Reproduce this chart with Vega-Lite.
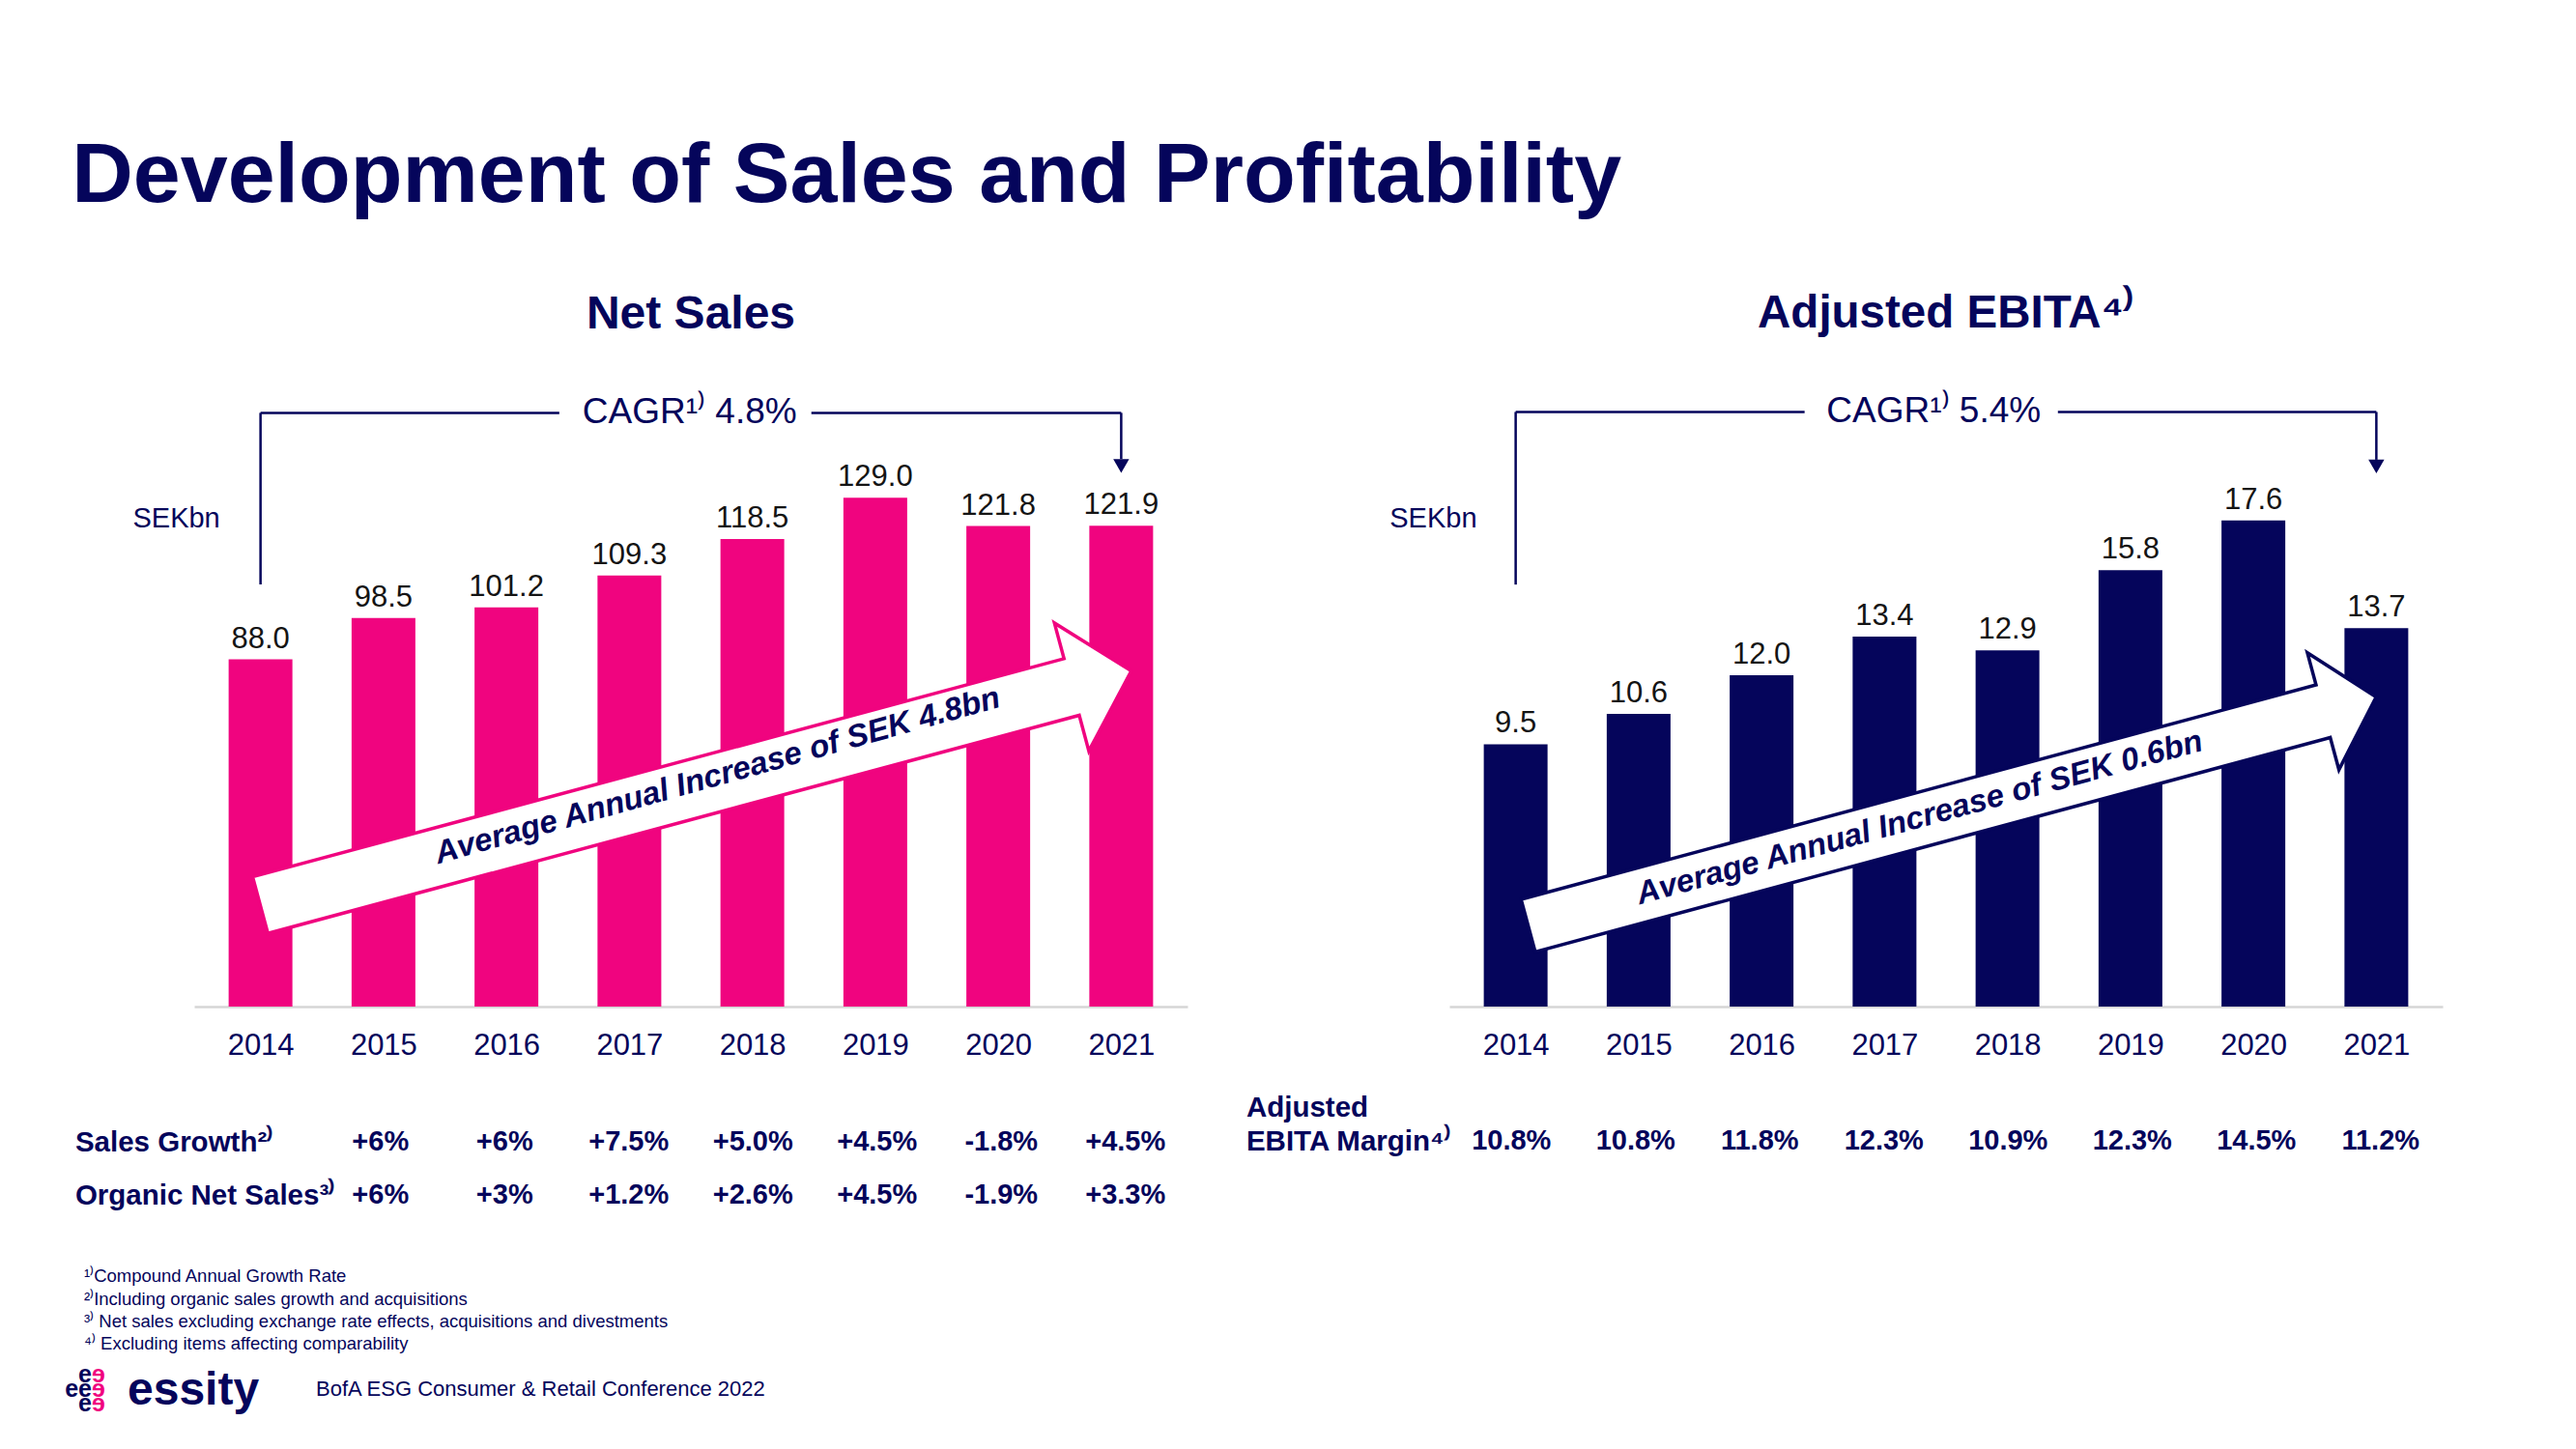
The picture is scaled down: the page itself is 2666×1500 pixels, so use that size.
{
  "$schema": "https://vega.github.io/schema/vega-lite/v6.json",
  "background": "white",
  "padding": {"left": 67, "top": 138, "right": 10, "bottom": 10},
  "title": {"text": "Development of Sales and Profitability", "anchor": "start", "frame": "bounds", "font": "Liberation Sans", "fontSize": 88, "fontWeight": "bold", "color": "#05055b", "baseline": "alphabetic", "offset": 4.5, "dx": 7},
  "config": {"view": {"stroke": null}, "font": "Liberation Sans"},
  "bounds": "flush",
  "columns": 2,
  "spacing": {"row": 40, "column": 271},
  "concat": [
    {
      "width": 1028,
      "height": 633,
      "title": {"text": "Net Sales", "font": "Liberation Sans", "fontSize": 48, "fontWeight": "bold", "color": "#05055b", "anchor": "middle", "baseline": "alphabetic", "offset": 20.5},
      "data": {"values": [
        {"year": 2014, "value": 88.0}, {"year": 2015, "value": 98.5}, {"year": 2016, "value": 101.2}, {"year": 2017, "value": 109.3},
        {"year": 2018, "value": 118.5}, {"year": 2019, "value": 129.0}, {"year": 2020, "value": 121.8}, {"year": 2021, "value": 121.9}
      ]},
      "layer": [
        {
          "mark": {"type": "bar", "width": 66, "color": "#f0047f"},
          "encoding": {
            "x": {"field": "year", "type": "quantitative", "scale": {"domain": [2013.5, 2021.5], "nice": false, "zero": false},
              "axis": {"values": [2014, 2015, 2016, 2017, 2018, 2019, 2020, 2021], "format": "d", "title": null, "grid": false, "ticks": false, "domainColor": "#d6d6d6", "domainWidth": 2.5, "labelFontSize": 31, "labelColor": "#05055b", "labelPadding": 25, "labelFlush": false, "labelOverlap": false, "labelFont": "Liberation Sans"}},
            "y": {"field": "value", "type": "quantitative", "scale": {"domain": [0, 155], "nice": false}, "axis": null}
          }
        },
        {
          "mark": {"type": "text", "fontSize": 31, "color": "#141414", "dy": -12, "baseline": "alphabetic", "align": "center"},
          "encoding": {
            "x": {"field": "year", "type": "quantitative", "scale": {"domain": [2013.5, 2021.5], "nice": false, "zero": false}},
            "y": {"field": "value", "type": "quantitative", "scale": {"domain": [0, 155], "nice": false}, "axis": null},
            "text": {"field": "value", "type": "quantitative", "format": ".1f"}
          }
        },
        {
          "data": {"values": [{}]},
          "mark": {"type": "rule", "color": "#05055b", "strokeWidth": 2.5},
          "encoding": {
            "x": {"datum": 2014, "type": "quantitative", "scale": {"domain": [2013.5, 2021.5], "nice": false, "zero": false}},
            "y": {"datum": 107, "type": "quantitative", "scale": {"domain": [0, 155], "nice": false}, "axis": null},
            "y2": {"datum": 150.5}
          }
        },
        {
          "data": {"values": [{}]},
          "mark": {"type": "rule", "color": "#05055b", "strokeWidth": 2.5},
          "encoding": {
            "x": {"datum": 2014, "type": "quantitative", "scale": {"domain": [2013.5, 2021.5], "nice": false, "zero": false}},
            "x2": {"datum": 2016.43},
            "y": {"datum": 150.5, "type": "quantitative", "scale": {"domain": [0, 155], "nice": false}, "axis": null}
          }
        },
        {
          "data": {"values": [{}]},
          "mark": {"type": "rule", "color": "#05055b", "strokeWidth": 2.5},
          "encoding": {
            "x": {"datum": 2018.48, "type": "quantitative", "scale": {"domain": [2013.5, 2021.5], "nice": false, "zero": false}},
            "x2": {"datum": 2021},
            "y": {"datum": 150.5, "type": "quantitative", "scale": {"domain": [0, 155], "nice": false}, "axis": null}
          }
        },
        {
          "data": {"values": [{}]},
          "mark": {"type": "rule", "color": "#05055b", "strokeWidth": 2.5},
          "encoding": {
            "x": {"datum": 2021, "type": "quantitative", "scale": {"domain": [2013.5, 2021.5], "nice": false, "zero": false}},
            "y": {"datum": 150.5, "type": "quantitative", "scale": {"domain": [0, 155], "nice": false}, "axis": null},
            "y2": {"datum": 138.8}
          }
        },
        {
          "data": {"values": [{}]},
          "mark": {"type": "point", "shape": "triangle-down", "size": 270, "filled": true, "color": "#05055b", "opacity": 1},
          "encoding": {
            "x": {"datum": 2021, "type": "quantitative", "scale": {"domain": [2013.5, 2021.5], "nice": false, "zero": false}},
            "y": {"datum": 137.05, "type": "quantitative", "scale": {"domain": [0, 155], "nice": false}, "axis": null}
          }
        },
        {
          "data": {"values": [{}]},
          "mark": {"type": "text", "text": "CAGR¹⁾ 4.8%", "fontSize": 37, "color": "#05055b", "align": "center", "baseline": "middle"},
          "encoding": {
            "x": {"datum": 2017.49, "type": "quantitative", "scale": {"domain": [2013.5, 2021.5], "nice": false, "zero": false}},
            "y": {"datum": 150.5, "type": "quantitative", "scale": {"domain": [0, 155], "nice": false}, "axis": null}
          }
        },
        {
          "data": {"values": [{}]},
          "mark": {"type": "text", "text": "SEKbn", "fontSize": 29, "color": "#05055b", "align": "center", "baseline": "middle"},
          "encoding": {
            "x": {"datum": 2013.316, "type": "quantitative", "scale": {"domain": [2013.5, 2021.5], "nice": false, "zero": false}},
            "y": {"datum": 123.7, "type": "quantitative", "scale": {"domain": [0, 155], "nice": false}, "axis": null}
          }
        },
        {
          "data": {"values": [{}]},
          "mark": {"type": "point", "shape": "M -1 -0.065 L 0.863 -0.065 L 0.863 -0.147 L 1 0 L 0.863 0.147 L 0.863 0.065 L -1 0.065 Z", "size": 871422, "angle": -15.05, "filled": true, "fill": "white", "stroke": "#f0047f", "strokeWidth": 3.5, "opacity": 1},
          "encoding": {
            "x": {"datum": 2017.54, "type": "quantitative", "scale": {"domain": [2013.5, 2021.5], "nice": false, "zero": false}},
            "y": {"datum": 55.4, "type": "quantitative", "scale": {"domain": [0, 155], "nice": false}, "axis": null}
          }
        },
        {
          "data": {"values": [{}]},
          "mark": {"type": "text", "text": "Average Annual Increase of SEK 4.8bn", "fontSize": 33, "fontWeight": "bold", "fontStyle": "italic", "angle": -15.6, "color": "#05055b", "align": "center", "baseline": "alphabetic"},
          "encoding": {
            "x": {"datum": 2017.737, "type": "quantitative", "scale": {"domain": [2013.5, 2021.5], "nice": false, "zero": false}},
            "y": {"datum": 56.15, "type": "quantitative", "scale": {"domain": [0, 155], "nice": false}, "axis": null}
          }
        }
      ]
    },
    {
      "width": 1028,
      "height": 633,
      "title": {"text": "Adjusted EBITA⁴⁾", "font": "Liberation Sans", "fontSize": 47.5, "fontWeight": "bold", "color": "#05055b", "anchor": "middle", "baseline": "alphabetic", "offset": 20.5},
      "data": {"values": [
        {"year": 2014, "value": 9.5}, {"year": 2015, "value": 10.6}, {"year": 2016, "value": 12.0}, {"year": 2017, "value": 13.4},
        {"year": 2018, "value": 12.9}, {"year": 2019, "value": 15.8}, {"year": 2020, "value": 17.6}, {"year": 2021, "value": 13.7}
      ]},
      "layer": [
        {
          "mark": {"type": "bar", "width": 66, "color": "#05055b"},
          "encoding": {
            "x": {"field": "year", "type": "quantitative", "scale": {"domain": [2013.5, 2021.5], "nice": false, "zero": false},
              "axis": {"values": [2014, 2015, 2016, 2017, 2018, 2019, 2020, 2021], "format": "d", "title": null, "grid": false, "ticks": false, "domainColor": "#d6d6d6", "domainWidth": 2.5, "labelFontSize": 31, "labelColor": "#05055b", "labelPadding": 25, "labelFlush": false, "labelOverlap": false, "labelFont": "Liberation Sans"}},
            "y": {"field": "value", "type": "quantitative", "scale": {"domain": [0, 22.14], "nice": false}, "axis": null}
          }
        },
        {
          "mark": {"type": "text", "fontSize": 31, "color": "#141414", "dy": -12, "baseline": "alphabetic", "align": "center"},
          "encoding": {
            "x": {"field": "year", "type": "quantitative", "scale": {"domain": [2013.5, 2021.5], "nice": false, "zero": false}},
            "y": {"field": "value", "type": "quantitative", "scale": {"domain": [0, 22.14], "nice": false}, "axis": null},
            "text": {"field": "value", "type": "quantitative", "format": ".1f"}
          }
        },
        {
          "data": {"values": [{}]},
          "mark": {"type": "rule", "color": "#05055b", "strokeWidth": 2.5},
          "encoding": {
            "x": {"datum": 2014, "type": "quantitative", "scale": {"domain": [2013.5, 2021.5], "nice": false, "zero": false}},
            "y": {"datum": 15.28, "type": "quantitative", "scale": {"domain": [0, 22.14], "nice": false}, "axis": null},
            "y2": {"datum": 21.53}
          }
        },
        {
          "data": {"values": [{}]},
          "mark": {"type": "rule", "color": "#05055b", "strokeWidth": 2.5},
          "encoding": {
            "x": {"datum": 2014, "type": "quantitative", "scale": {"domain": [2013.5, 2021.5], "nice": false, "zero": false}},
            "x2": {"datum": 2016.35},
            "y": {"datum": 21.53, "type": "quantitative", "scale": {"domain": [0, 22.14], "nice": false}, "axis": null}
          }
        },
        {
          "data": {"values": [{}]},
          "mark": {"type": "rule", "color": "#05055b", "strokeWidth": 2.5},
          "encoding": {
            "x": {"datum": 2018.41, "type": "quantitative", "scale": {"domain": [2013.5, 2021.5], "nice": false, "zero": false}},
            "x2": {"datum": 2021},
            "y": {"datum": 21.53, "type": "quantitative", "scale": {"domain": [0, 22.14], "nice": false}, "axis": null}
          }
        },
        {
          "data": {"values": [{}]},
          "mark": {"type": "rule", "color": "#05055b", "strokeWidth": 2.5},
          "encoding": {
            "x": {"datum": 2021, "type": "quantitative", "scale": {"domain": [2013.5, 2021.5], "nice": false, "zero": false}},
            "y": {"datum": 21.53, "type": "quantitative", "scale": {"domain": [0, 22.14], "nice": false}, "axis": null},
            "y2": {"datum": 19.8}
          }
        },
        {
          "data": {"values": [{}]},
          "mark": {"type": "point", "shape": "triangle-down", "size": 270, "filled": true, "color": "#05055b", "opacity": 1},
          "encoding": {
            "x": {"datum": 2021, "type": "quantitative", "scale": {"domain": [2013.5, 2021.5], "nice": false, "zero": false}},
            "y": {"datum": 19.556, "type": "quantitative", "scale": {"domain": [0, 22.14], "nice": false}, "axis": null}
          }
        },
        {
          "data": {"values": [{}]},
          "mark": {"type": "text", "text": "CAGR¹⁾ 5.4%", "fontSize": 37, "color": "#05055b", "align": "center", "baseline": "middle"},
          "encoding": {
            "x": {"datum": 2017.40, "type": "quantitative", "scale": {"domain": [2013.5, 2021.5], "nice": false, "zero": false}},
            "y": {"datum": 21.53, "type": "quantitative", "scale": {"domain": [0, 22.14], "nice": false}, "axis": null}
          }
        },
        {
          "data": {"values": [{}]},
          "mark": {"type": "text", "text": "SEKbn", "fontSize": 29, "color": "#05055b", "align": "center", "baseline": "middle"},
          "encoding": {
            "x": {"datum": 2013.33, "type": "quantitative", "scale": {"domain": [2013.5, 2021.5], "nice": false, "zero": false}},
            "y": {"datum": 17.68, "type": "quantitative", "scale": {"domain": [0, 22.14], "nice": false}, "axis": null}
          }
        },
        {
          "data": {"values": [{}]},
          "mark": {"type": "point", "shape": "M -1 -0.062 L 0.875 -0.062 L 0.875 -0.138 L 1 0 L 0.875 0.138 L 0.875 0.062 L -1 0.062 Z", "size": 826281, "angle": -15.1, "filled": true, "fill": "white", "stroke": "#05055b", "strokeWidth": 3.5, "opacity": 1},
          "encoding": {
            "x": {"datum": 2017.55, "type": "quantitative", "scale": {"domain": [2013.5, 2021.5], "nice": false, "zero": false}},
            "y": {"datum": 7.07, "type": "quantitative", "scale": {"domain": [0, 22.14], "nice": false}, "axis": null}
          }
        },
        {
          "data": {"values": [{}]},
          "mark": {"type": "text", "text": "Average Annual Increase of SEK 0.6bn", "fontSize": 33, "fontWeight": "bold", "fontStyle": "italic", "angle": -15.3, "color": "#05055b", "align": "center", "baseline": "alphabetic"},
          "encoding": {
            "x": {"datum": 2017.305, "type": "quantitative", "scale": {"domain": [2013.5, 2021.5], "nice": false, "zero": false}},
            "y": {"datum": 6.495, "type": "quantitative", "scale": {"domain": [0, 22.14], "nice": false}, "axis": null}
          }
        }
      ]
    },
    {
      "width": 1028,
      "height": 165,
      "data": {"values": [
        {"year": 2015, "row": "Sales Growth²⁾", "v": "+6%"},
        {"year": 2016, "row": "Sales Growth²⁾", "v": "+6%"},
        {"year": 2017, "row": "Sales Growth²⁾", "v": "+7.5%"},
        {"year": 2018, "row": "Sales Growth²⁾", "v": "+5.0%"},
        {"year": 2019, "row": "Sales Growth²⁾", "v": "+4.5%"},
        {"year": 2020, "row": "Sales Growth²⁾", "v": "-1.8%"},
        {"year": 2021, "row": "Sales Growth²⁾", "v": "+4.5%"},
        {"year": 2015, "row": "Organic Net Sales³⁾", "v": "+6%"},
        {"year": 2016, "row": "Organic Net Sales³⁾", "v": "+3%"},
        {"year": 2017, "row": "Organic Net Sales³⁾", "v": "+1.2%"},
        {"year": 2018, "row": "Organic Net Sales³⁾", "v": "+2.6%"},
        {"year": 2019, "row": "Organic Net Sales³⁾", "v": "+4.5%"},
        {"year": 2020, "row": "Organic Net Sales³⁾", "v": "-1.9%"},
        {"year": 2021, "row": "Organic Net Sales³⁾", "v": "+3.3%"}
      ]},
      "mark": {"type": "text", "fontSize": 29, "fontWeight": "bold", "color": "#05055b", "align": "center", "baseline": "middle"},
      "encoding": {
        "x": {"field": "year", "type": "quantitative", "scale": {"domain": [2013.5, 2021.5], "nice": false, "zero": false}, "axis": null},
        "y": {"field": "row", "type": "nominal", "scale": {"type": "point", "domain": ["Sales Growth²⁾", "Organic Net Sales³⁾"], "padding": 1, "align": 0.9136, "round": false},
          "axis": {"orient": "left", "title": null, "domain": false, "ticks": false, "grid": false, "labelAlign": "left", "labelBaseline": "middle", "labelPadding": 123.6, "labelFontSize": 29.5, "labelFontWeight": "bold", "labelColor": "#05055b", "labelFont": "Liberation Sans", "labelLimit": 500}},
        "text": {"field": "v"}
      }
    },
    {
      "width": 1028,
      "height": 105,
      "data": {"values": [
        {"year": 2014, "row": "EBITA Margin⁴⁾", "v": "10.8%"},
        {"year": 2015, "row": "EBITA Margin⁴⁾", "v": "10.8%"},
        {"year": 2016, "row": "EBITA Margin⁴⁾", "v": "11.8%"},
        {"year": 2017, "row": "EBITA Margin⁴⁾", "v": "12.3%"},
        {"year": 2018, "row": "EBITA Margin⁴⁾", "v": "10.9%"},
        {"year": 2019, "row": "EBITA Margin⁴⁾", "v": "12.3%"},
        {"year": 2020, "row": "EBITA Margin⁴⁾", "v": "14.5%"},
        {"year": 2021, "row": "EBITA Margin⁴⁾", "v": "11.2%"}
      ]},
      "mark": {"type": "text", "fontSize": 29, "fontWeight": "bold", "color": "#05055b", "align": "center", "baseline": "middle"},
      "encoding": {
        "x": {"field": "year", "type": "quantitative", "scale": {"domain": [2013.5, 2021.5], "nice": false, "zero": false}, "axis": null},
        "y": {"field": "row", "type": "nominal", "scale": {"type": "point", "domain": ["Adjusted", "EBITA Margin⁴⁾"], "padding": 1, "align": 0.9214, "round": false},
          "axis": {"orient": "left", "title": null, "domain": false, "ticks": false, "grid": false, "labelAlign": "left", "labelBaseline": "middle", "labelPadding": 210.6, "labelFontSize": 29.5, "labelFontWeight": "bold", "labelColor": "#05055b", "labelFont": "Liberation Sans", "labelLimit": 500}},
        "text": {"field": "v"}
      }
    },
    {
      "width": 1028,
      "height": 163.1,
      "layer": [
        {
          "data": {"values": [
            {"line": "1", "note": "¹⁾Compound Annual Growth Rate"},
            {"line": "2", "note": "²⁾Including organic sales growth and acquisitions"},
            {"line": "3", "note": "³⁾ Net sales excluding exchange rate effects, acquisitions and divestments"},
            {"line": "4", "note": "⁴⁾ Excluding items affecting comparability"}
          ]},
          "mark": {"type": "text", "fontSize": 18.5, "color": "#05055b", "align": "left", "baseline": "middle"},
          "encoding": {
            "x": {"datum": -11.09, "type": "quantitative", "scale": {"domain": [0, 100], "nice": false, "zero": false}, "axis": null},
            "y": {"field": "line", "type": "ordinal", "scale": {"type": "point", "domain": ["1", "2", "3", "4", "5", "6"], "padding": 1, "align": 0.7403, "round": false}, "axis": null},
            "text": {"field": "note"}
          }
        },
        {
          "data": {"values": [{}]},
          "mark": {"type": "text", "text": "e\nee\ne", "lineBreak": "\n", "lineHeight": 15.3, "fontSize": 25, "fontWeight": "bold", "color": "#05055b", "align": "right", "baseline": "middle", "dy": -15.3},
          "encoding": {
            "x": {"datum": -10.31, "type": "quantitative", "scale": {"domain": [0, 100], "nice": false, "zero": false}, "axis": null},
            "y": {"datum": "6", "type": "ordinal", "scale": {"type": "point", "domain": ["1", "2", "3", "4", "5", "6"], "padding": 1, "align": 0.7403, "round": false}, "axis": null}
          }
        },
        {
          "data": {"values": [{}]},
          "mark": {"type": "text", "text": "ɘ\nɘ\nɘ", "lineBreak": "\n", "lineHeight": 15.3, "fontSize": 25, "fontWeight": "bold", "color": "#f0047f", "align": "left", "baseline": "middle", "dy": -15.3},
          "encoding": {
            "x": {"datum": -10.31, "type": "quantitative", "scale": {"domain": [0, 100], "nice": false, "zero": false}, "axis": null},
            "y": {"datum": "6", "type": "ordinal", "scale": {"type": "point", "domain": ["1", "2", "3", "4", "5", "6"], "padding": 1, "align": 0.7403, "round": false}, "axis": null}
          }
        },
        {
          "data": {"values": [{}]},
          "mark": {"type": "text", "text": "essity", "fontSize": 48, "fontWeight": "bold", "color": "#05055b", "align": "left", "baseline": "middle", "dy": 2},
          "encoding": {
            "x": {"datum": -6.712, "type": "quantitative", "scale": {"domain": [0, 100], "nice": false, "zero": false}, "axis": null},
            "y": {"datum": "6", "type": "ordinal", "scale": {"type": "point", "domain": ["1", "2", "3", "4", "5", "6"], "padding": 1, "align": 0.7403, "round": false}, "axis": null}
          }
        },
        {
          "data": {"values": [{}]},
          "mark": {"type": "text", "text": "BofA ESG Consumer & Retail Conference 2022", "fontSize": 22, "color": "#05055b", "align": "left", "baseline": "middle"},
          "encoding": {
            "x": {"datum": 12.257, "type": "quantitative", "scale": {"domain": [0, 100], "nice": false, "zero": false}, "axis": null},
            "y": {"datum": "6", "type": "ordinal", "scale": {"type": "point", "domain": ["1", "2", "3", "4", "5", "6"], "padding": 1, "align": 0.7403, "round": false}, "axis": null}
          }
        }
      ]
    }
  ]
}
